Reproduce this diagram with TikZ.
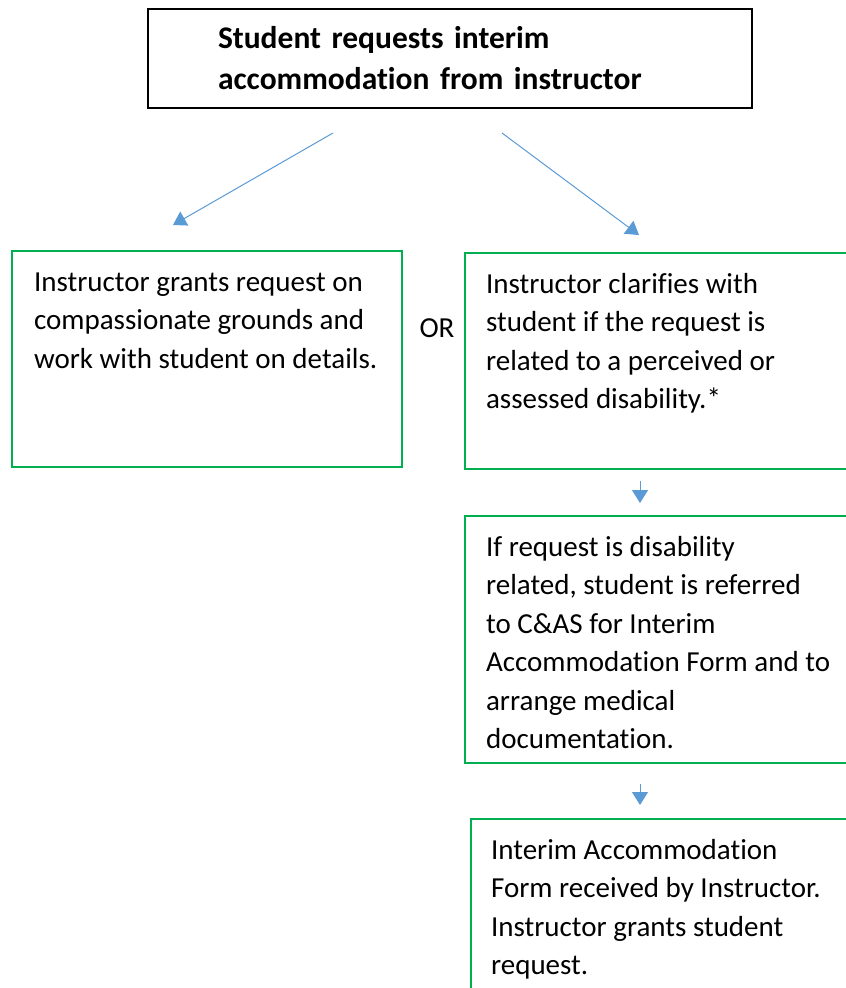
\documentclass[tikz,border=0pt]{standalone}
\usepackage{fontspec}
\setmainfont{Carlito}[Ligatures=NoCommon]
\usetikzlibrary{arrows.meta}
\definecolor{boxgreen}{HTML}{00B050}
\definecolor{arrowblue}{HTML}{5B9BD5}
\newcommand{\boxtext}[3]{\parbox[t][#1][t]{#2}{\raggedright\strut #3}}
\begin{document}
\begin{tikzpicture}[x=1pt,y=-1pt,
  bodytext/.style={font=\fontsize{29pt}{38.5pt}\selectfont},
  stepbox/.style={bodytext,draw=boxgreen,line width=2.2pt,anchor=north west,inner xsep=21pt,inner ysep=13pt},
  flow/.style={draw=arrowblue,line width=1pt,-{Triangle[length=13pt,width=16pt]}}]
\useasboundingbox (0,0) rectangle (846,988);
\clip (0,0) rectangle (846,988);
\node[draw=black,line width=2.2pt,minimum width=604pt,minimum height=99pt,inner xsep=70pt,
  text width=464pt,align=left,font=\fontsize{31.5pt}{41pt}\selectfont\bfseries] (req) at (450,58.5)
  {Student requests interim\\accommodation from instructor};
\node[stepbox,inner xsep=22pt] (grant) at (11,250) {\boxtext{190pt}{346pt}{Instructor grants request on\\compassionate grounds and\\work with student on details.}};
\node[bodytext] (or) at (437,328) {OR};
\node[stepbox] (clarify) at (464,252) {\boxtext{190pt}{360pt}{Instructor clarifies with\\student if the request is\\related to a perceived or\\assessed disability.*}};
\node[stepbox] (refer) at (464,515) {\boxtext{221pt}{360pt}{If request is disability\\related, student is referred\\to C\&AS for Interim\\Accommodation Form and to\\arrange medical\\documentation.}};
\node[stepbox,inner xsep=20pt] (form) at (470,818) {\boxtext{220pt}{360pt}{Interim Accommodation\\Form received by Instructor.\\Instructor grants student\\request.}};
% arrows
\coordinate (a1) at (333,133); \coordinate (b1) at (173,225);
\coordinate (a2) at (502,133); \coordinate (b2) at (639,235);
\coordinate (a3) at (640,481); \coordinate (b3) at (640,503);
\coordinate (a4) at (640,784); \coordinate (b4) at (640,805);
\draw[flow] (a1)--(b1);
\draw[flow] (a2)--(b2);
\draw[flow] (a3)--(b3);
\draw[flow] (a4)--(b4);
\end{tikzpicture}
\end{document}
